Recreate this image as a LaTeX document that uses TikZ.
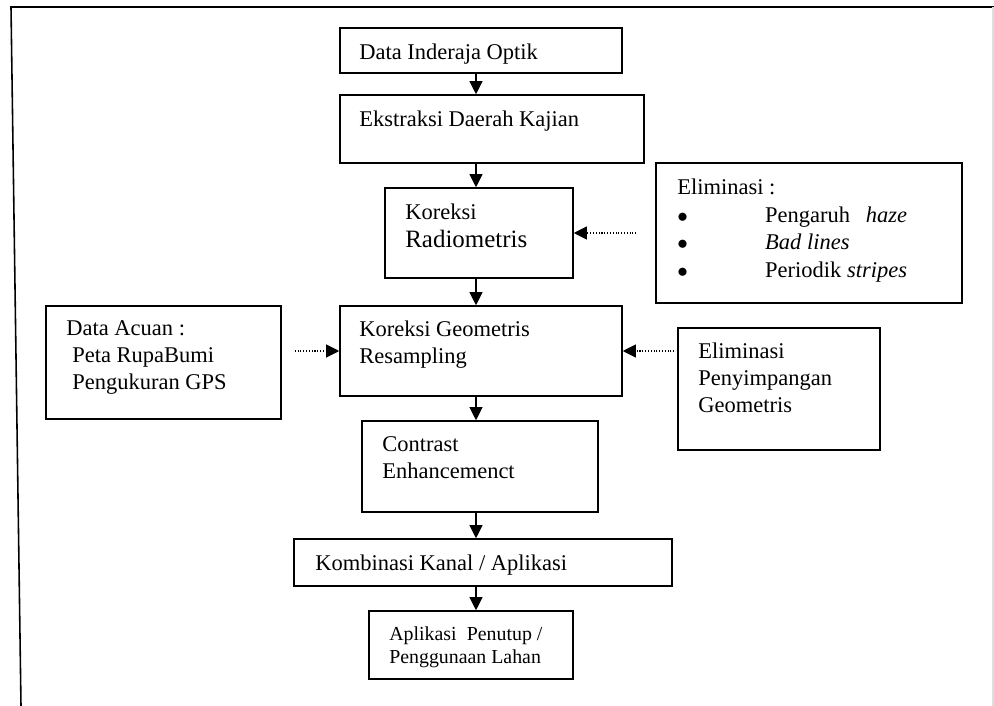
\documentclass[tikz,border=0pt]{standalone}
\usepackage{fontspec}
\setmainfont{Liberation Serif}
\usetikzlibrary{arrows.meta}

\newcommand\itembul{\makebox[50pt][l]{$\bullet$}}

\begin{document}
\begin{tikzpicture}[x=0.02cm, y=-0.02cm, >={Triangle[length=7.5pt,width=7.5pt]},
    box/.style={draw, line width=0.9pt, inner sep=0pt},
    txt/.style={anchor=base west, inner sep=0pt, align=left, font=\fontsize{12.8}{15.2}\selectfont},
    flow/.style={->, line width=0.6pt},
    feed/.style={->, line width=0.6pt, dash pattern=on 0.6pt off 1pt}]
    \useasboundingbox (0,0) rectangle (994,706);

    % frame
    \draw[line width=0.9pt] (21,706) -- (11,7) -- (994,7);
    \draw[gray!25, line width=0.6pt] (993,7) -- (993,706);

    \coordinate (spine) at (476,0);

    % main chain
    \node[box, minimum width=5.64cm, minimum height=0.9cm] (optik) at (481,50.5) {};
    \node[box, minimum width=6.08cm, minimum height=1.36cm] (ekstraksi) at (492,129) {};
    \node[box, minimum width=3.76cm, minimum height=1.8cm] (radio) at (479,233) {};
    \node[box, minimum width=5.64cm, minimum height=1.8cm] (geo) at (481,351) {};
    \node[box, minimum width=4.72cm, minimum height=1.82cm] (kontras) at (480,466.5) {};
    \node[box, minimum width=7.56cm, minimum height=0.94cm] (kombinasi) at (483,562.5) {};
    \node[box, minimum width=4.08cm, minimum height=1.36cm] (penutup) at (471,645) {};

    % side boxes
    \node[box, minimum width=4.7cm, minimum height=2.26cm] (acuan) at (163.5,362.5) {};
    \node[box, minimum width=6.12cm, minimum height=2.8cm] (elimradio) at (809,233) {};
    \node[box, minimum width=4.04cm, minimum height=2.44cm] (elimgeo) at (779,389) {};

    % texts (multi-line ones sit on the baseline of their last line)
    \node[txt] (optik-t) at (359,60) {Data Inderaja Optik};
    \node[txt] (ekstraksi-t) at (359,127) {Ekstraksi Daerah Kajian};
    \node[txt] (radio-t1) at (405,219) {Koreksi};
    \node[txt, font=\fontsize{14.2}{16}\selectfont] (radio-t2) at (405,247) {Radiometris};
    \node[txt] (geo-t) at (359,363) {Koreksi Geometris\\Resampling};
    \node[txt] (kontras-t) at (382,478) {Contrast\\Enhancemenct};
    \node[txt] (kombinasi-t) at (315,570) {Kombinasi Kanal / Aplikasi};
    \node[txt, font=\fontsize{11.3}{13}\selectfont] (penutup-t) at (389,663) {Aplikasi\hspace{3pt} Penutup /\\Penggunaan Lahan};
    \node[txt] (acuan-t) at (66,389) {Data Acuan :\\\hspace{3.4pt}Peta RupaBumi\\\hspace{3.4pt}Pengukuran GPS};
    \node[txt, font=\fontsize{12.8}{15.6}\selectfont] (elimradio-t) at (677,277)
        {Eliminasi :\\\itembul Pengaruh\hspace{9pt}\textit{haze}\\
         \itembul\textit{Bad lines}\\
         \itembul Periodik \textit{stripes}};
    \node[txt] (elimgeo-t) at (698,412) {Eliminasi\\Penyimpangan\\Geometris};

    % arrows
    \foreach \a/\b in {optik/ekstraksi, ekstraksi/radio, radio/geo, geo/kontras, kontras/kombinasi, kombinasi/penutup}
        \draw[flow] (\a.south -| spine) -- (\b.north -| spine);

    \draw[feed, shorten <=0.38cm] (elimradio.west) -- (radio.east);
    \draw[feed, shorten <=0.26cm] (acuan.east |- geo.west) -- (geo.west);
    \draw[feed, shorten <=0.06cm] (elimgeo.west |- geo.east) -- (geo.east);
\end{tikzpicture}
\end{document}
